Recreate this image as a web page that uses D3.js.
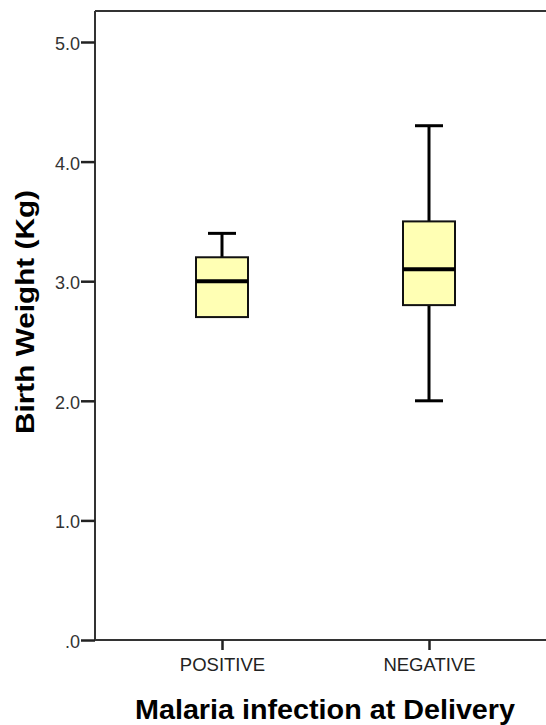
<!DOCTYPE html>
<html><head><meta charset="utf-8">
<script src="https://cdn.jsdelivr.net/npm/d3@7"></script>
<style>body{margin:0;background:#fff}svg{display:block}</style>
</head><body>
<script>
const categories = ["POSITIVE", "NEGATIVE"];
const whiskerLow = [2.7, 2.0];
const q1 = [2.7, 2.8];
const median = [3.0, 3.1];
const q3 = [3.2, 3.5];
const whiskerHigh = [3.4, 4.3];
const yTicks = [0, 1, 2, 3, 4, 5];
const yTickLabels = [".0", "1.0", "2.0", "3.0", "4.0", "5.0"];

const W = 546, H = 725;
const svg = d3.select("body").append("svg").attr("width", W).attr("height", H);
const frameLeft = 95, frameTop = 11, frameBottom = 640;
const font = "Liberation Sans, Arial, sans-serif";

const y = d3.scaleLinear().domain([0, 5]).range([640, 42]);
const x = d3.scalePoint().domain(categories).range([222, 429]);

// frame
svg.append("line").attr("x1", frameLeft).attr("x2", W).attr("y1", frameTop).attr("y2", frameTop)
  .attr("stroke", "#333").attr("stroke-width", 2);
svg.append("line").attr("x1", frameLeft).attr("x2", frameLeft).attr("y1", frameTop).attr("y2", frameBottom)
  .attr("stroke", "#333").attr("stroke-width", 2);
svg.append("line").attr("x1", frameLeft).attr("x2", W).attr("y1", frameBottom).attr("y2", frameBottom)
  .attr("stroke", "#333").attr("stroke-width", 2);

// y axis
const yAxis = d3.axisLeft(y).tickValues(yTicks).tickSize(14).tickPadding(1)
  .tickFormat((d, i) => yTickLabels[i]);
const gy = svg.append("g").attr("transform", `translate(${frameLeft},0)`).call(yAxis);
gy.select(".domain").remove();
gy.selectAll(".tick line").attr("stroke", "#222").attr("stroke-width", 2.5);
gy.selectAll(".tick text").attr("fill", "#333").attr("dy", "0.42em").style("font-family", font).style("font-size", "18px");

// x axis
const xAxis = d3.axisBottom(x).tickSize(10).tickPadding(8);
const gx = svg.append("g").attr("transform", `translate(0,${frameBottom})`).call(xAxis);
gx.select(".domain").remove();
gx.selectAll(".tick line").attr("stroke", "#222").attr("stroke-width", 2.5);
gx.selectAll(".tick text").attr("fill", "#222").style("font-family", font).style("font-size", "18.5px");

// boxes
const boxW = 52, capW = 28;
categories.forEach((c, i) => {
  const cx = x(c);
  const g = svg.append("g");
  if (whiskerHigh[i] > q3[i]) {
    g.append("line").attr("x1", cx).attr("x2", cx).attr("y1", y(q3[i])).attr("y2", y(whiskerHigh[i]))
      .attr("stroke", "#000").attr("stroke-width", 3);
    g.append("line").attr("x1", cx - capW / 2).attr("x2", cx + capW / 2).attr("y1", y(whiskerHigh[i])).attr("y2", y(whiskerHigh[i]))
      .attr("stroke", "#000").attr("stroke-width", 3);
  }
  if (whiskerLow[i] < q1[i]) {
    g.append("line").attr("x1", cx).attr("x2", cx).attr("y1", y(q1[i])).attr("y2", y(whiskerLow[i]))
      .attr("stroke", "#000").attr("stroke-width", 3);
    g.append("line").attr("x1", cx - capW / 2).attr("x2", cx + capW / 2).attr("y1", y(whiskerLow[i])).attr("y2", y(whiskerLow[i]))
      .attr("stroke", "#000").attr("stroke-width", 3);
  }
  g.append("rect").attr("x", cx - boxW / 2).attr("width", boxW)
    .attr("y", y(q3[i])).attr("height", y(q1[i]) - y(q3[i]))
    .attr("fill", "#ffffb4").attr("stroke", "#111").attr("stroke-width", 2);
  g.append("line").attr("x1", cx - boxW / 2).attr("x2", cx + boxW / 2).attr("y1", y(median[i])).attr("y2", y(median[i]))
    .attr("stroke", "#000").attr("stroke-width", 4);
});

// titles
svg.append("text").attr("x", 325).attr("y", 719).attr("text-anchor", "middle")
  .attr("textLength", 380).attr("lengthAdjust", "spacingAndGlyphs")
  .style("font-family", font).style("font-weight", "bold").style("font-size", "27px")
  .attr("fill", "#000").text("Malaria infection at Delivery");
svg.append("text").attr("transform", "translate(34,312) rotate(-90)").attr("text-anchor", "middle")
  .attr("textLength", 244).attr("lengthAdjust", "spacingAndGlyphs")
  .style("font-family", font).style("font-weight", "bold").style("font-size", "26px")
  .attr("fill", "#000").text("Birth Weight (Kg)");
</script>
</body></html>
